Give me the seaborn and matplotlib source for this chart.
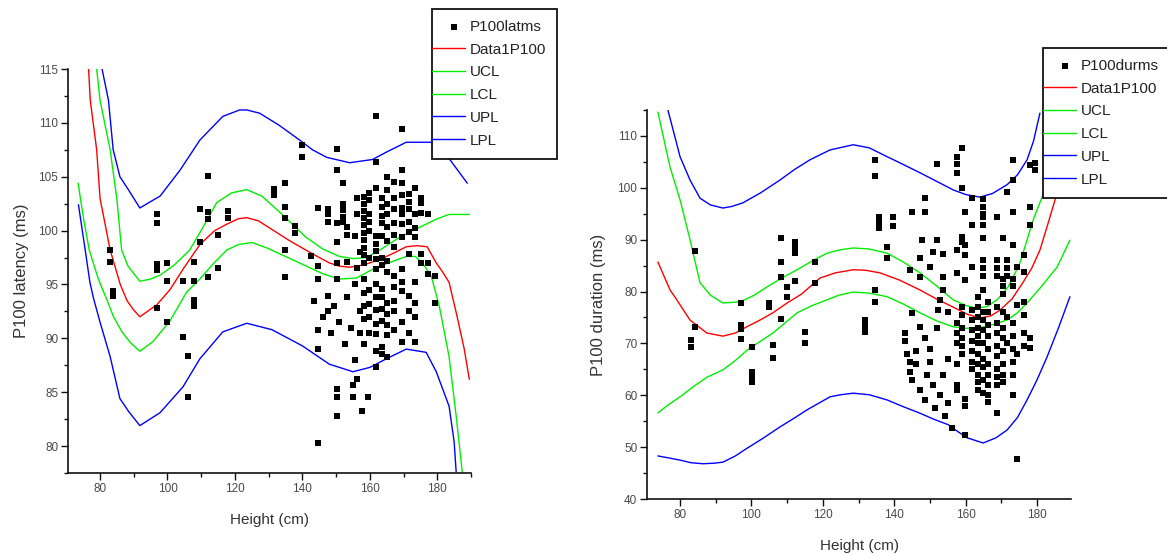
import matplotlib
matplotlib.use("Agg")
import matplotlib.pyplot as plt
import seaborn as sns
import numpy as np
from matplotlib.ticker import MultipleLocator
from matplotlib.legend_handler import HandlerLine2D
from matplotlib.lines import Line2D

sns.set_theme(style="ticks")
plt.rcParams["font.family"] = ["Liberation Sans", "DejaVu Sans"]

# ---------------- P100 latency vs height ----------------
lat_height = [
    83, 83, 83.9, 83.9,
    96.9, 96.9, 96.9, 96.9, 96.9,
    99.8, 99.8, 99.8,
    104.6, 104.6, 106.1, 106.1,
    107.8, 107.8, 107.8, 107.8,
    109.6, 109.6, 112, 112, 112, 112,
    114.9, 114.9, 117.9, 117.9,
    131.5, 131.5, 134.7, 134.7, 134.7, 134.7, 134.7,
    137.7, 137.7, 139.8, 139.8, 142.7, 143.5,
    144.5, 144.5, 144.5, 144.5, 144.5, 144.5, 146,
    147.5, 147.5, 147.5, 147.5, 147.5, 148.5, 149.5,
    150.4, 150.4, 150.4, 150.4, 150.4, 150.4, 150.4, 150.4, 150.4,
    151, 151.9, 151.9, 151.9, 151.9, 151.9, 152.5,
    153.1, 153.1, 153.1, 153.1, 154.5, 154.9, 154.9,
    155.5, 155.5, 155.5, 156.3, 156.3, 156.3, 156.3,
    157.2, 157.2, 157.2, 157.8, 159.6,
    158.4, 158.4, 158.4, 158.4, 158.4, 158.4, 158.4, 158.4, 158.4, 158.4, 158.4, 158.4, 158.4, 158.4, 158.4,
    159.9, 159.9, 159.9, 159.9, 159.9, 159.9, 159.9, 159.9, 159.9, 159.9,
    161.7, 161.7, 161.7, 161.7, 161.7, 161.7, 161.7, 161.7, 161.7, 161.7, 161.7, 161.7, 161.7, 161.7, 161.7,
    163.7, 163.7, 163.7, 163.7, 163.7, 163.7, 163.7, 163.7, 163.7, 163.7, 163.7, 163.7, 163.7,
    165.2, 165.2, 165.2, 165.2, 165.2, 165.2, 165.2, 165.2, 165.2, 165.2, 165.2, 165.2, 165.2,
    167.3, 167.3, 167.3, 167.3, 167.3, 167.3, 167.3, 167.3, 167.3, 167.3, 167.3,
    169.6, 169.6, 169.6, 169.6, 169.6, 169.6, 169.6, 169.6, 169.6, 169.6, 169.6, 169.6, 169.6,
    171.7, 171.7, 171.7, 171.7, 171.7, 171.7, 171.7, 171.7, 171.7,
    173.5, 173.5, 173.5, 173.5, 173.5, 173.5, 173.5, 173.5,
    175.3, 175.3, 175.3, 175.3, 175.3, 177.3, 177.3, 177.3, 179.4, 179.4,
]
lat_ms = [
    98.2, 97.1, 94.4, 93.9,
    101.5, 100.7, 96.9, 96.3, 92.8,
    97.0, 95.3, 91.5,
    95.3, 90.1, 88.4, 84.6,
    97.1, 95.3, 93.6, 93.0,
    102.0, 98.9, 105.1, 101.7, 101.1, 95.7,
    99.6, 96.5, 101.8, 101.2,
    103.9, 103.3, 104.4, 102.2, 101.2, 98.2, 95.7,
    100.4, 99.8, 107.9, 106.8, 97.6, 93.5,
    102.1, 96.7, 95.5, 90.8, 89.0, 80.3, 92.0,
    102.0, 101.5, 100.8, 93.9, 92.5, 90.5, 93.0,
    107.6, 105.6, 100.7, 98.9, 97.0, 95.5, 85.3, 84.6, 82.8,
    91.5, 104.4, 102.5, 101.9, 101.3, 100.8, 89.5,
    100.3, 99.6, 97.1, 93.8, 91.0, 85.7, 84.6,
    99.5, 95.0, 88.0, 103.0, 101.5, 96.5, 86.2,
    98.0, 92.5, 90.5, 83.3, 84.6,
    103.1, 102.5, 101.8, 101.2, 100.5, 99.8, 99.1, 98.4, 97.7, 97.0, 95.5, 94.2, 93.0, 91.8, 89.5,
    103.5, 102.8, 101.5, 100.8, 100.0, 97.5, 94.5, 93.2, 92.0, 90.5,
    110.6, 106.4, 104.0, 99.5, 98.8, 98.1, 97.4, 96.4, 95.0, 93.8, 92.6, 91.3, 90.4, 88.8, 87.3,
    103.0, 102.2, 101.4, 100.7, 99.5, 97.5, 96.8, 94.6, 93.8, 92.7, 91.6, 89.2, 88.5,
    105.0, 103.8, 102.5, 101.5, 100.3, 99.0, 97.2, 96.2, 93.3, 92.3, 91.2, 90.3, 88.3,
    104.5, 103.0, 102.0, 100.7, 99.6, 98.5, 95.8, 94.8, 93.5, 92.5, 90.8,
    109.4, 105.6, 104.4, 103.3, 102.1, 101.5, 100.6, 99.4, 96.4, 95.2, 94.4, 91.5, 89.7,
    103.4, 102.7, 102.0, 100.8, 99.9, 97.8, 93.9, 92.5, 90.5,
    104.0, 101.5, 100.2, 99.4, 95.2, 93.3, 92.0, 89.7,
    103.0, 102.6, 101.6, 97.8, 97.0, 101.5, 97.0, 96.0, 95.8, 93.3,
]

# fitted curve with confidence (UCL/LCL) and prediction (UPL/LPL) limits
lat_fit_x = [76.6, 77.1, 79, 80, 83, 86, 88, 89.8, 91.8, 94.5, 96.8, 100.7, 105, 109.6, 114,
             117.6, 121, 123.5, 127, 131, 136, 141, 145, 148, 151, 154, 158, 162.8, 167,
             170.8, 174, 177, 179.7, 181.5, 183.5, 185.9, 188, 189.5]
lat_fit_y = [115, 112.1, 107.5, 103, 98.2, 95, 93.5, 92.7, 92.0, 92.6, 93.1, 94.5, 96.6, 98.7, 100.0,
             100.6, 101.1, 101.2, 100.9, 100.1, 99.1, 98.2, 97.5, 97.0, 96.7, 96.6, 96.8, 97.3, 97.9,
             98.5, 98.6, 98.5, 97.0, 96.2, 95.2, 92.0, 89.0, 86.2]
lat_ucl_x = [79, 80, 83, 85, 86.4, 88.3, 91.8, 95, 98, 102, 106.6, 110.5, 114.6, 119, 123.5, 128,
             134, 141, 146, 151, 155, 159, 163.5, 167.9, 172, 176.7, 180, 183.5, 189.5]
lat_ucl_y = [115, 112.1, 107.5, 102.9, 98.2, 96.7, 95.3, 95.5, 95.9, 96.8, 98.2, 100.3, 102.6, 103.5,
             103.8, 103.2, 101.5, 99.4, 98.3, 97.6, 97.4, 97.5, 98.3, 99.2, 99.9, 100.6, 101.1, 101.5, 101.5]
lat_lcl_x = [73.5, 75, 76.8, 79.5, 82, 84, 86.5, 89, 91.8, 95.7, 100.7, 105.7, 109.6, 113.5, 117.6,
             121, 125, 129.4, 135, 141.2, 146, 151, 156, 160.8, 165.5, 170.8, 173.5, 175.6, 178.2,
             180.6, 183.5, 185.6, 187.4]
lat_lcl_y = [104.4, 101.3, 98.2, 95.5, 93.6, 92.0, 90.6, 89.6, 88.8, 89.7, 91.6, 94.3, 95.5, 96.9, 98.2,
             98.7, 98.9, 98.4, 97.6, 96.7, 96.0, 95.5, 95.6, 96.4, 97.0, 97.6, 97.6, 97.0, 95.8,
             93.0, 88.3, 82.8, 77.6]
lat_upl_x = [80.6, 82.5, 83.9, 85.9, 88.4, 91.8, 94.5, 97.8, 103.7, 109.6, 116.4, 121.4, 123.5, 127.3,
             133, 139.2, 143, 147.2, 154, 160.8, 165, 170.8, 178.2, 183, 188.9]
lat_upl_y = [115, 112.1, 107.5, 105, 103.8, 102.1, 102.6, 103.2, 105.6, 108.4, 110.6, 111.2, 111.2, 110.9,
             109.8, 108.4, 107.5, 106.8, 106.3, 106.6, 107.3, 108.2, 108.2, 106.9, 104.4]
lat_lpl_x = [73.6, 75.6, 77, 78, 80, 83, 85.9, 88.5, 91.8, 97.8, 104.6, 109.6, 116.4, 123.5, 131, 140,
             148, 155, 160, 164.9, 170.8, 176.7, 179.7, 183.5, 185, 185.6]
lat_lpl_y = [102.4, 98.2, 95.2, 93.8, 91.5, 88.3, 84.4, 83.2, 81.9, 83.1, 85.5, 88.1, 90.6, 91.4, 90.8,
             89.3, 87.6, 86.9, 87.3, 88.1, 89.0, 88.7, 86.9, 83.7, 80.4, 77.6]

# ---------------- P100 duration vs height ----------------
dur_height = [
    83, 83, 84.2, 84.2,
    97.1, 97.1, 97.1, 97.1,
    100.2, 100.2, 100.2, 100.2,
    104.9, 104.9, 106, 106,
    108.3, 108.3, 108.3, 108.3,
    110, 110, 112.2, 112.2, 112.2, 112.2,
    115, 115, 117.8, 117.8,
    131.8, 131.8, 131.8, 134.6, 134.6, 134.6, 134.6,
    135.7, 135.7, 135.7, 138, 138, 139.7, 139.7,
    143, 143, 143.5, 144.4, 144.4, 144.4,
    145, 145, 145, 146.2, 146.2,
    147.2, 147.2, 147.2, 147.2, 147.8,
    148.6, 148.6, 148.6, 148.6, 149.2,
    150, 150, 150, 150.9, 150.9, 151.5,
    152, 152, 152, 152.3, 152.8, 152.8,
    153.7, 153.7, 153.7, 153.7, 154.3,
    155.1, 155.1, 155.1, 156.2,
    157.6, 157.6, 157.6, 157.6, 157.6, 157.6, 157.6, 157.6, 157.6, 157.6, 157.6,
    159, 159, 159, 159, 159, 159, 159, 159, 159, 159,
    159.8, 159.8, 159.8, 159.8, 159.8, 159.8, 159.8,
    161.8, 161.8, 161.8, 161.8, 161.8, 161.8, 161.8, 161.8, 161.8, 161.8,
    163.5, 163.5, 163.5, 163.5, 163.5, 163.5, 163.5, 163.5, 163.5, 163.5, 163.5,
    164.9, 164.9, 164.9, 164.9, 164.9, 164.9, 164.9, 164.9, 164.9, 164.9, 164.9, 164.9, 164.9, 164.9,
    164.9, 164.9, 164.9, 164.9,
    166.3, 166.3, 166.3, 166.3, 166.3, 166.3, 166.3, 166.3, 166.3, 166.3,
    168.8, 168.8, 168.8, 168.8, 168.8, 168.8, 168.8, 168.8, 168.8, 168.8, 168.8, 168.8, 168.8,
    170.5, 170.5, 170.5, 170.5, 170.5, 170.5, 170.5, 170.5, 170.5, 170.5, 170.5,
    171.6, 171.6, 171.6, 171.6, 171.6, 171.6,
    173.3, 173.3, 173.3, 173.3, 173.3, 173.3, 173.3, 173.3, 173.3, 173.3, 173.3, 173.3,
    174.4, 174.4, 174.4, 174.4, 176.4, 176.4, 176.4, 176.4, 176.4, 176.4,
    178, 178, 178, 178, 178, 179.4, 179.4,
]
dur_ms = [
    70.7, 69.3, 87.8, 73.2,
    77.8, 73.6, 72.8, 70.8,
    69.3, 64.5, 63.5, 62.6,
    77.8, 77.0, 69.7, 67.2,
    90.3, 85.7, 82.8, 74.7,
    80.9, 79.0, 89.6, 88.5, 87.4, 82.0,
    72.2, 70.1, 85.7, 81.6,
    74.5, 73.3, 72.2, 105.4, 102.3, 80.3, 78.0,
    94.4, 93.3, 92.3, 88.6, 86.5, 94.4, 92.7,
    72.0, 70.5, 68.0, 84.2, 66.5, 64.5,
    95.3, 75.9, 63.0, 68.5, 66.0,
    86.5, 82.8, 73.2, 61.0, 89.9,
    98.0, 95.3, 71.0, 59.0, 64.0,
    84.7, 69.0, 66.5, 87.7, 62.0, 57.5,
    104.6, 89.9, 73.0, 76.4, 78.4, 60.0,
    87.3, 82.8, 80.3, 64.0, 56.0,
    76.0, 67.0, 58.5, 53.7,
    106.0, 104.5, 102.8, 88.0, 83.6, 74.0, 72.0, 70.1, 66.0, 62.0, 61.0,
    107.7, 100.0, 90.5, 89.5, 77.0, 75.5, 73.0, 71.0, 69.5, 68.0,
    95.3, 89.0, 87.0, 82.2, 59.3, 58.0, 52.3,
    98.0, 92.8, 84.7, 76.5, 74.5, 72.5, 70.5, 68.5, 66.5, 65.0,
    79.0, 77.0, 75.0, 73.0, 71.5, 70.0, 68.0, 66.0, 64.0, 62.5, 61.0,
    97.9, 96.3, 95.0, 94.3, 92.8, 90.3, 86.0, 84.5, 83.0, 80.3, 76.0, 74.5, 72.5, 70.0,
    67.0, 65.5, 63.0, 60.5,
    78.0, 76.0, 73.5, 71.5, 69.0, 66.0, 64.0, 62.0, 60.0, 58.7,
    94.4, 86.0, 84.5, 83.0, 77.0, 74.0, 72.0, 69.5, 67.5, 65.0, 63.5, 62.0, 56.6,
    90.3, 82.5, 81.0, 79.5, 76.0, 73.0, 71.0, 68.5, 66.0, 64.0, 62.5,
    99.2, 86.0, 84.5, 83.0, 75.0, 70.0,
    105.4, 101.5, 95.3, 89.0, 82.5, 81.0, 74.0, 71.5, 69.0, 66.5, 64.0, 60.1,
    84.7, 77.5, 68.0, 47.7, 87.0, 83.8, 78.0, 75.5, 72.0, 69.5,
    104.4, 96.3, 92.8, 71.0, 69.1, 104.8, 103.5,
]

dur_fit_x = [73.8, 77.2, 79.1, 82.8, 87.5, 92, 95.5, 98.7, 102.4, 106, 110, 114, 119.2, 123.5, 128.5,
             132, 136, 141.5, 147.2, 152, 156.5, 160.5, 164, 167, 169.6, 173, 176, 178.5, 180.8,
             183.1, 185.6, 188, 190]
dur_fit_y = [85.7, 80.3, 78.4, 74.5, 72.0, 71.4, 72.0, 73.2, 74.5, 75.9, 77.8, 79.5, 82.6, 83.6, 84.2,
             84.1, 83.6, 82.2, 80.3, 78.5, 77.0, 75.6, 74.9, 75.3, 76.4, 78.6, 81.7, 84.5, 88.0,
             93.2, 99.0, 104.0, 108.5]
dur_ucl_x = [73.8, 77.2, 80, 82.8, 85.6, 88.5, 92, 96.8, 100.5, 104.4, 108.5, 112.8, 117, 121.2,
             124.5, 128.5, 133, 138, 142.5, 147.2, 152, 156.5, 160, 163.2, 166, 168.8, 172, 175.2,
             178.9, 181.4, 184, 187, 190]
dur_ucl_y = [114.6, 104, 97.7, 90, 81.7, 79.3, 77.8, 78.0, 79.2, 80.9, 82.6, 84.2, 85.9, 87.4,
             88.0, 88.4, 88.2, 87.4, 85.7, 83.6, 81.0, 78.4, 77.3, 76.8, 77.1, 78.4, 81.0, 85.5,
             93.8, 98.2, 104, 110, 115]
dur_lcl_x = [73.8, 77, 80, 84, 87.6, 92, 95.5, 98.8, 102.5, 106, 109.5, 112.8, 117, 121.2, 124.5,
             128.5, 133, 138, 142.5, 147.2, 152, 156.5, 160, 164, 168, 171.6, 174.5, 177.2, 181,
             185.6, 189.2]
dur_lcl_y = [56.6, 58.3, 59.7, 61.8, 63.5, 64.9, 66.7, 68.7, 70.4, 72.0, 74.0, 75.9, 77.3, 78.4, 79.3,
             79.9, 79.7, 79.0, 77.6, 75.9, 74.3, 73.2, 72.9, 73.0, 73.7, 74.5, 75.9, 77.8, 80.8,
             84.7, 89.9]
dur_upl_x = [76.6, 78.5, 80, 82.8, 85.6, 88.5, 92, 94.5, 97.6, 102.5, 108, 112, 116.4, 122, 128.5,
             133, 138, 142.5, 147.2, 152, 156.5, 160, 164, 167.5, 171.6, 174.5, 177.2, 179, 180.8]
dur_upl_y = [115, 110, 106, 101.5, 98, 96.7, 96.1, 96.4, 97.1, 99, 101.5, 103.5, 105.4, 107.3, 108.3,
             107.7, 106, 104.5, 102.9, 101.2, 99.6, 98.7, 98.2, 98.9, 100.6, 102.5, 105.4, 109, 114.4]
dur_lpl_x = [73.8, 77, 80, 83, 86.4, 89.5, 92, 95.5, 98.8, 103, 108, 112, 115.6, 119.2, 122, 125,
             128.5, 133, 138, 142.5, 147, 151, 155.2, 158, 160.4, 164.9, 168.5, 171.6, 174.5,
             177.2, 180, 182.8, 186, 189.2]
dur_lpl_y = [48.3, 47.9, 47.5, 47.0, 46.8, 46.9, 47.1, 48.3, 49.8, 51.6, 53.9, 55.6, 57.2, 58.6, 59.7,
             60.1, 60.4, 60.1, 59.1, 57.8, 56.6, 55.4, 54.3, 52.9, 51.8, 50.8, 51.8, 53.3, 55.7,
             59.1, 63.0, 67.4, 73.0, 79.0]

assert len(lat_height) == len(lat_ms)
assert len(dur_height) == len(dur_ms)

RED, GREEN, BLUE = "#ff0000", "#00ee00", "#0000ff"
TICK_GREY = "#4a4a4a"
LEG_FONT = 11
LEG_PAD = 0.72


class FrameEdgeLine(HandlerLine2D):
    """Legend line handle that starts right at the legend frame."""

    def create_artists(self, legend, orig_handle, xdescent, ydescent,
                       width, height, fontsize, trans):
        artists = super().create_artists(legend, orig_handle, xdescent, ydescent,
                                         width, height, fontsize, trans)
        pad = legend.borderpad * fontsize
        for a in artists:
            if isinstance(a, Line2D) and a.get_linestyle() not in ("None", "", " "):
                xd = a.get_xdata()
                a.set_xdata([xd[0] - pad, xd[-1]])
                a.set_ydata([a.get_ydata()[0]] * 2)
        return artists


W, H = 1167, 555
fig = plt.figure(figsize=(W / 100, H / 100), dpi=100)
ax1 = fig.add_axes([68 / W, 1 - 473 / H, (471 - 68) / W, (473 - 69) / H])
ax2 = fig.add_axes([647 / W, 1 - 499 / H, (1071 - 647) / W, (499 - 110) / H])


def draw_panel(ax, hx, hy, scatter_label, curves):
    sns.scatterplot(x=hx, y=hy, ax=ax, marker="s", s=22, color="black",
                    linewidth=0, label=scatter_label, legend=False, zorder=3)
    for (cx, cy), color, name in curves:
        sns.lineplot(x=cx, y=cy, ax=ax, color=color, lw=1.0, sort=False,
                     estimator=None, label=name, legend=False, zorder=2)


draw_panel(ax1, lat_height, lat_ms, "P100latms", [
    ((lat_fit_x, lat_fit_y), RED, "Data1P100"),
    ((lat_ucl_x, lat_ucl_y), GREEN, "UCL"),
    ((lat_lcl_x, lat_lcl_y), GREEN, "LCL"),
    ((lat_upl_x, lat_upl_y), BLUE, "UPL"),
    ((lat_lpl_x, lat_lpl_y), BLUE, "LPL"),
])
draw_panel(ax2, dur_height, dur_ms, "P100durms", [
    ((dur_fit_x, dur_fit_y), RED, "Data1P100"),
    ((dur_ucl_x, dur_ucl_y), GREEN, "UCL"),
    ((dur_lcl_x, dur_lcl_y), GREEN, "LCL"),
    ((dur_upl_x, dur_upl_y), BLUE, "UPL"),
    ((dur_lpl_x, dur_lpl_y), BLUE, "LPL"),
])

ax1.set_xlim(70.5, 190)
ax1.set_ylim(77.5, 115)
ax1.yaxis.set_major_locator(MultipleLocator(5))
ax1.yaxis.set_minor_locator(MultipleLocator(2.5))

ax2.set_xlim(70.75, 189.5)
ax2.set_ylim(40, 115)
ax2.yaxis.set_major_locator(MultipleLocator(10))
ax2.yaxis.set_minor_locator(MultipleLocator(5))

for ax in (ax1, ax2):
    ax.xaxis.set_major_locator(MultipleLocator(20))
    ax.xaxis.set_minor_locator(MultipleLocator(10))
    ax.set_xticks([80, 100, 120, 140, 160, 180])
    for side in ("top", "right"):
        ax.spines[side].set_visible(False)
    for side in ("left", "bottom"):
        ax.spines[side].set_linewidth(1.2)
        ax.spines[side].set_color("#111111")
    ax.tick_params(which="major", direction="out", length=5, width=1.0,
                   color="#111111", labelsize=8.5, labelcolor=TICK_GREY, pad=2)
    ax.tick_params(which="minor", direction="out", length=3, width=1.0, color="#111111")
    ax.set_facecolor("white")

ax1.set_xlabel("Height (cm)", fontsize=11, color="#333333", labelpad=13)
ax1.set_ylabel("P100 latency (ms)", fontsize=12, color="#333333", labelpad=7)
ax2.set_xlabel("Height (cm)", fontsize=11, color="#333333", labelpad=13)
ax2.set_ylabel("P100 duration (ms)", fontsize=12, color="#333333", labelpad=8)

for ax, anchor in ((ax1, (432 / W, 1 - 9 / H)), (ax2, (1043 / W, 1 - 48 / H))):
    handles, labels = ax.get_legend_handles_labels()
    leg = ax.legend(handles, labels, loc="upper left", bbox_to_anchor=anchor,
                    bbox_transform=fig.transFigure, borderaxespad=0, frameon=True,
                    fancybox=False, fontsize=LEG_FONT, handlelength=1.45, handletextpad=0.3,
                    labelspacing=0.57, borderpad=LEG_PAD, scatterpoints=1, markerscale=1.0,
                    handler_map={Line2D: FrameEdgeLine()})
    leg.get_frame().set_edgecolor("#111111")
    leg.get_frame().set_linewidth(1.3)
    leg.get_frame().set_alpha(1)
    for t in leg.get_texts():
        t.set_color("#222222")

fig.savefig("out.png", dpi=100, facecolor="white")
